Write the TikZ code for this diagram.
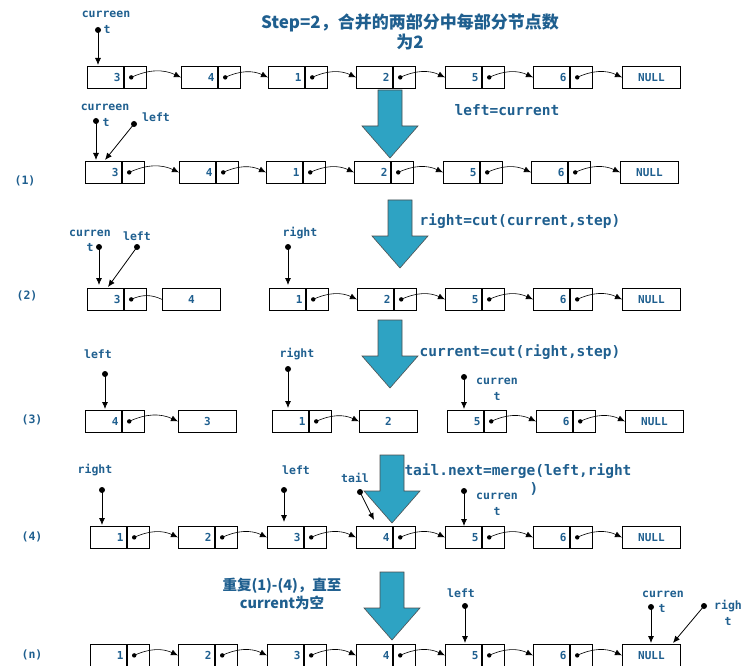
\documentclass[tikz,border=0pt]{standalone}
\usepackage{fontspec}
\setmonofont{DejaVu Sans Mono}
\newfontfamily\cjk{Noto Sans CJK SC}
\usetikzlibrary{positioning,arrows.meta}
\definecolor{txtblue}{HTML}{1F5F8F}
\definecolor{arrblue}{HTML}{2EA3C3}
\tikzset{
  databox/.style={draw,thick,minimum width=36pt,minimum height=22pt,inner sep=0pt,anchor=north west,
    font=\ttfamily\bfseries\fontsize{11}{11}\selectfont,text=txtblue,align=right,text width=30pt},
  ptrbox/.style={draw,thick,minimum width=22pt,minimum height=22pt,inner sep=0pt},
  plainbox/.style={draw,thick,minimum width=58pt,minimum height=22pt,inner sep=0pt,anchor=north west,
    font=\ttfamily\bfseries\fontsize{11}{11}\selectfont,text=txtblue},
  link/.style={-{Latex[length=7pt,width=6pt]},semithick},
  ptr/.style={-{Latex[length=7pt,width=6pt]},thick},
  lbl/.style={font=\ttfamily\bfseries\fontsize{11.5}{11.5}\selectfont,text=txtblue,inner sep=0pt},
  note/.style={font=\ttfamily\bfseries\fontsize{14.5}{17}\selectfont,text=txtblue,inner sep=0pt,align=center},
}
% name, x, y(top), value
\newcommand{\lnode}[4]{%
  \node[databox] (#1) at (#2,#3) {#4};
  \node[ptrbox,right=0pt of #1] (#1p) {};
  \coordinate (#1d) at ([xshift=-4pt]#1p.center);
  \fill (#1d) circle (2.2pt);}
% name, x, y(top)
\newcommand{\nullnode}[3]{\node[plainbox] (#1) at (#2,#3) {NULL};}
% x, y(top)
\newcommand{\bigarrow}[2]{%
  \filldraw[fill=arrblue,draw=black!70,line width=0.6pt] (#1-12,#2) -- (#1+12,#2) -- (#1+12,#2+36)
    -- (#1+28,#2+36) -- (#1,#2+68) -- (#1-28,#2+36) -- (#1-12,#2+36) -- cycle;}
% pointer: name, dot x, dot y, target
\newcommand{\pointer}[4]{%
  \fill (#2,#3) circle (3pt) coordinate (#1);
  \draw[ptr] (#1) -- (#4);}
\begin{document}
\begin{tikzpicture}[x=1pt,y=-1pt]
\useasboundingbox (0,0) rectangle (753,666);
% title
\node[note,font=\cjk\bfseries\fontsize{17}{20}\selectfont] (title) at (410,32) {Step=2，合并的两部分中每部分节点数\\为2};
% row 0
\foreach \n/\x/\v in {a/87/3,b/181/4,c/268/1,d/356/2,e/445/5,f/533/6}{\lnode{r0\n}{\x}{66}{\v}}
\nullnode{r0g}{622}{66}
\foreach \p/\q in {a/b,b/c,c/d,d/e,e/f,f/g}{\draw[link] (r0\p d) to[bend left=25] (r0\q.west);}
\node[lbl] (l0c) at (106,14) {curreen};
\node[lbl] (l0t) at (107,29) {t};
\pointer{p0c}{98}{30}{98,65}
% row 1
\bigarrow{390}{90}
\node[note] (n1) at (507,110) {left=current};
\node[lbl] (k1) at (25,181) {(1)};
\foreach \n/\x/\v in {a/85/3,b/179/4,c/266/1,d/354/2,e/443/5,f/531/6}{\lnode{r1\n}{\x}{161}{\v}}
\nullnode{r1g}{620}{161}
\foreach \p/\q in {a/b,b/c,c/d,d/e,e/f,f/g}{\draw[link] (r1\p d) to[bend left=25] (r1\q.west);}
\node[lbl] (l1c) at (105,107) {curreen};
\node[lbl] (l1t) at (106,122) {t};
\node[lbl] (l1l) at (156,117) {left};
\pointer{p1c}{96}{121}{96,160}
\pointer{p1l}{134}{124}{105,160}
% row 2
\bigarrow{400}{200}
\node[note] (n2) at (520,221) {right=cut(current,step)};
\node[lbl] (k2) at (27,296) {(2)};
\lnode{r2a}{87}{288}{3}
\node[plainbox] (r2b) at (162,288) {4};
\draw[semithick] (r2ad) to[bend left=25] (r2b.west);
\foreach \n/\x/\v in {c/269/1,d/357/2,e/445/5,f/533/6}{\lnode{r2\n}{\x}{288}{\v}}
\nullnode{r2g}{622}{288}
\foreach \p/\q in {c/d,d/e,e/f,f/g}{\draw[link] (r2\p d) to[bend left=25] (r2\q.west);}
\node[lbl] (l2c) at (90,233) {curren};
\node[lbl] (l2t) at (90,247) {t};
\node[lbl] (l2l) at (137,236) {left};
\node[lbl] (l2r) at (300,233) {right};
\pointer{p2c}{99}{247}{99,285}
\pointer{p2l}{137}{247}{108,287}
\pointer{p2r}{288}{247}{288,285}
% row 3
\bigarrow{390}{320}
\node[note] (n3) at (520,352) {current=cut(right,step)};
\node[lbl] (k3) at (32,420) {(3)};
\lnode{r3a}{85}{410}{4}
\node[plainbox] (r3b) at (178,410) {3};
\draw[link] (r3ad) to[bend left=25] (r3b.west);
\lnode{r3c}{272}{410}{1}
\node[plainbox] (r3d) at (359,410) {2};
\draw[link] (r3cd) to[bend left=25] (r3d.west);
\lnode{r3e}{447}{410}{5}
\lnode{r3f}{536}{410}{6}
\nullnode{r3g}{625}{410}
\draw[link] (r3ed) to[bend left=25] (r3f.west);
\draw[link] (r3fd) to[bend left=25] (r3g.west);
\node[lbl] (l3l) at (98,354) {left};
\node[lbl] (l3r) at (297,354) {right};
\node[lbl] (l3c) at (497,381) {curren};
\node[lbl] (l3t) at (497,396) {t};
\pointer{p3l}{105}{374}{105,409}
\pointer{p3r}{288}{369}{288,408}
\pointer{p3c}{464}{377}{464,409}
% row 4
\bigarrow{392}{455}
\node[note] (n4) at (518,471) {tail.next=merge(left,right};
\node[note] (n4b) at (534,489) {)};
\node[lbl] (k4) at (32,537) {(4)};
\foreach \n/\x/\v in {a/90/1,b/178/2,c/267/3,d/356/4,e/445/5,f/533/6}{\lnode{r4\n}{\x}{526}{\v}}
\nullnode{r4g}{622}{526}
\foreach \p/\q in {a/b,b/c,c/d,d/e,e/f,f/g}{\draw[link] (r4\p d) to[bend left=25] (r4\q.west);}
\node[lbl] (l4r) at (95,470) {right};
\node[lbl] (l4l) at (296,470) {left};
\node[lbl] (l4t) at (355,478) {tail};
\node[lbl] (l4c) at (497,496) {curren};
\node[lbl] (l4u) at (497,511) {t};
\pointer{p4r}{102}{490}{102,525}
\pointer{p4l}{284}{490}{284,522}
\pointer{p4t}{360}{492}{374,520}
\pointer{p4c}{464}{491}{464,526}
% row n
\bigarrow{392}{572}
\node[note,font=\cjk\bfseries\fontsize{14.5}{18}\selectfont] (nn) at (282,594) {重复(1)-(4)，直至\\current为空};
\node[lbl] (kn) at (32,655) {(n)};
\foreach \n/\x/\v in {a/90/1,b/178/2,c/267/3,d/356/4,e/445/5,f/533/6}{\lnode{rn\n}{\x}{644}{\v}}
\nullnode{rng}{622}{644}
\foreach \p/\q in {a/b,b/c,c/d,d/e,e/f,f/g}{\draw[link] (rn\p d) to[bend left=25] (rn\q.west);}
\node[lbl] (lnl) at (461,593) {left};
\node[lbl] (lnc) at (663,594) {curren};
\node[lbl] (lnt) at (662,608) {t};
\node[lbl] (lnr) at (728,606) {righ};
\node[lbl] (lnu) at (728,621) {t};
\pointer{pnl}{465}{606}{465,643}
\pointer{pnc}{651}{607}{651,643}
\pointer{pnr}{704}{606}{673,643}
\end{tikzpicture}
\end{document}
